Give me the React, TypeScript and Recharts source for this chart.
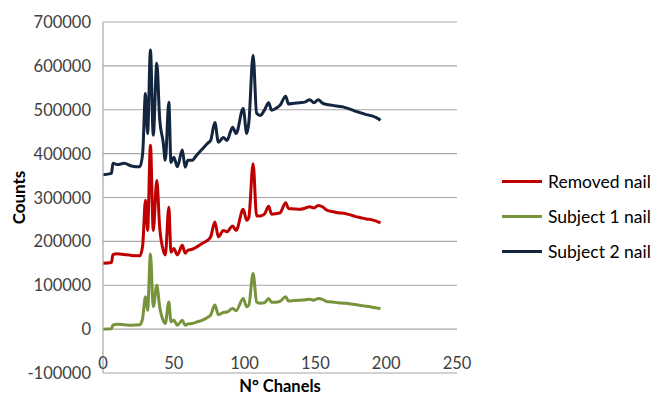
import { CartesianGrid, Line, LineChart, XAxis, YAxis } from 'recharts'

// channel positions (shared by the three spectra)
const channels = [
  0, 6, 7, 10, 15, 20, 26, 28, 30, 31.5, 33.5, 35.5, 38, 40, 42.5, 44, 46.5, 48, 50, 52.5,
  56, 58, 60, 63, 66, 70, 74, 76, 79, 81.5, 85, 87.5, 91.5, 94, 99, 101.5, 103, 106, 108.5,
  111, 114, 117, 119, 122, 125, 129, 131, 135, 139, 143, 146, 149, 152, 155, 158, 162, 166,
  170, 174, 178, 182, 186, 190, 193, 196,
]

const subject2Nail = [
  352000, 355000, 378000, 375000, 378000, 372000, 370000, 400000, 537000, 446000, 636000,
  442000, 606000, 480000, 426000, 385000, 517000, 380000, 392000, 370000, 408000, 369000,
  385000, 385000, 396000, 410000, 424000, 430000, 471000, 426000, 437000, 430000, 460000,
  446000, 503000, 446000, 471000, 624000, 492000, 487000, 499000, 516000, 499000, 503000,
  510000, 531000, 513000, 515000, 516000, 518000, 523000, 516000, 523000, 515000, 512000,
  510000, 508000, 506000, 502000, 497000, 493000, 489000, 486000, 482000, 476000,
]

const removedNail = [
  150000, 152000, 170000, 172000, 170000, 168000, 167000, 190000, 294000, 225000, 419000,
  225000, 339000, 233000, 180000, 169000, 278000, 175000, 184000, 169000, 191000, 173000,
  180000, 182000, 187000, 195000, 203000, 210000, 244000, 210000, 225000, 222000, 235000,
  225000, 273000, 248000, 255000, 377000, 258000, 258000, 262000, 280000, 262000, 263000,
  265000, 288000, 275000, 274000, 273000, 276000, 279000, 276000, 282000, 279000, 271000,
  268000, 265000, 264000, 261000, 257000, 254000, 251000, 249000, 246000, 242000,
]

const subject1Nail = [
  0, 1000, 9000, 11000, 10000, 9000, 10000, 25000, 74000, 43000, 171000, 51000, 100000,
  51000, 20000, 13000, 62000, 17000, 20000, 9000, 20000, 9000, 12000, 13000, 16000, 20000,
  27000, 32000, 55000, 33000, 38000, 39000, 47000, 42000, 70000, 51000, 55000, 127000,
  62000, 59000, 60000, 70000, 61000, 61000, 63000, 74000, 64000, 65000, 66000, 67000,
  68000, 66000, 70000, 68000, 63000, 62000, 60000, 59000, 58000, 56000, 54000, 52000,
  50000, 48000, 47000,
]

const xTicks = [0, 50, 100, 150, 200, 250]
const yTicks = [-100000, 0, 100000, 200000, 300000, 400000, 500000, 600000, 700000]

const data = channels.map((ch, i) => ({
  ch,
  removed: removedNail[i],
  subject1: subject1Nail[i],
  subject2: subject2Nail[i],
}))

const series = [
  { key: 'removed', name: 'Removed nail', color: '#C00000' },
  { key: 'subject1', name: 'Subject 1 nail', color: '#77933C' },
  { key: 'subject2', name: 'Subject 2 nail', color: '#14253F' },
]

const FONT = 'Lato, "Open Sans", sans-serif'
const TEXT = '#404040'
const GRID = '#A6A6A6'

const XTick = ({ x, y, payload }: any) => (
  <text x={x} y={y - 18} textAnchor="middle" dominantBaseline="central" fill={TEXT} fontSize={16.5} fontFamily={FONT}>
    {payload.value}
  </text>
)

const YTick = ({ x, y, payload }: any) => (
  <text x={x - 4} y={y} textAnchor="end" dominantBaseline="central" fill={TEXT} fontSize={16.5} fontFamily={FONT}>
    {payload.value}
  </text>
)

const XTitle = ({ viewBox }: any) => (
  <text x={viewBox.x + viewBox.width / 2} y={viewBox.y + 13} textAnchor="middle" dominantBaseline="central"
    fill="#000" fontSize={16.5} fontWeight="bold" fontFamily={FONT}>
    N° Chanels
  </text>
)

const YTitle = ({ viewBox }: any) => {
  const cx = 18
  const cy = viewBox.y + viewBox.height / 2
  return (
    <text x={cx} y={cy} transform={`rotate(-90 ${cx} ${cy})`} textAnchor="middle" dominantBaseline="central"
      fill="#000" fontSize={17} fontWeight="bold" fontFamily={FONT}>
      Counts
    </text>
  )
}

export default function App() {
  return (
    <div style={{ position: 'absolute', left: 0, top: 0, width: 660, height: 396, background: '#fff' }}>
      <LineChart width={660} height={396} data={data} margin={{ top: 22, right: 203, bottom: 0, left: 0 }}>
        <CartesianGrid vertical={false} stroke={GRID} strokeWidth={1.2} />
        <XAxis
          dataKey="ch"
          type="number"
          domain={[0, 250]}
          ticks={xTicks}
          height={23}
          axisLine={false}
          tickLine={false}
          tick={<XTick />}
          label={<XTitle />}
        />
        <YAxis
          type="number"
          domain={[-100000, 700000]}
          ticks={yTicks}
          width={103}
          axisLine={{ stroke: GRID, strokeWidth: 1.2 }}
          tickLine={false}
          tick={<YTick />}
          label={<YTitle />}
        />
        {series.map((s) => (
          <Line
            key={s.key}
            type="monotone"
            dataKey={s.key}
            name={s.name}
            stroke={s.color}
            strokeWidth={3}
            dot={false}
            strokeLinejoin="round"
            isAnimationActive={false}
          />
        ))}
      </LineChart>
      <div style={{ position: 'absolute', left: 502, top: 164, fontFamily: FONT, fontSize: 17.5, color: '#000' }}>
        {series.map((s) => (
          <div key={s.key} style={{ display: 'flex', alignItems: 'center', height: 35 }}>
            <span style={{ display: 'inline-block', width: 40, height: 2.5, background: s.color, marginRight: 6 }} />
            <span>{s.name}</span>
          </div>
        ))}
      </div>
    </div>
  )
}
